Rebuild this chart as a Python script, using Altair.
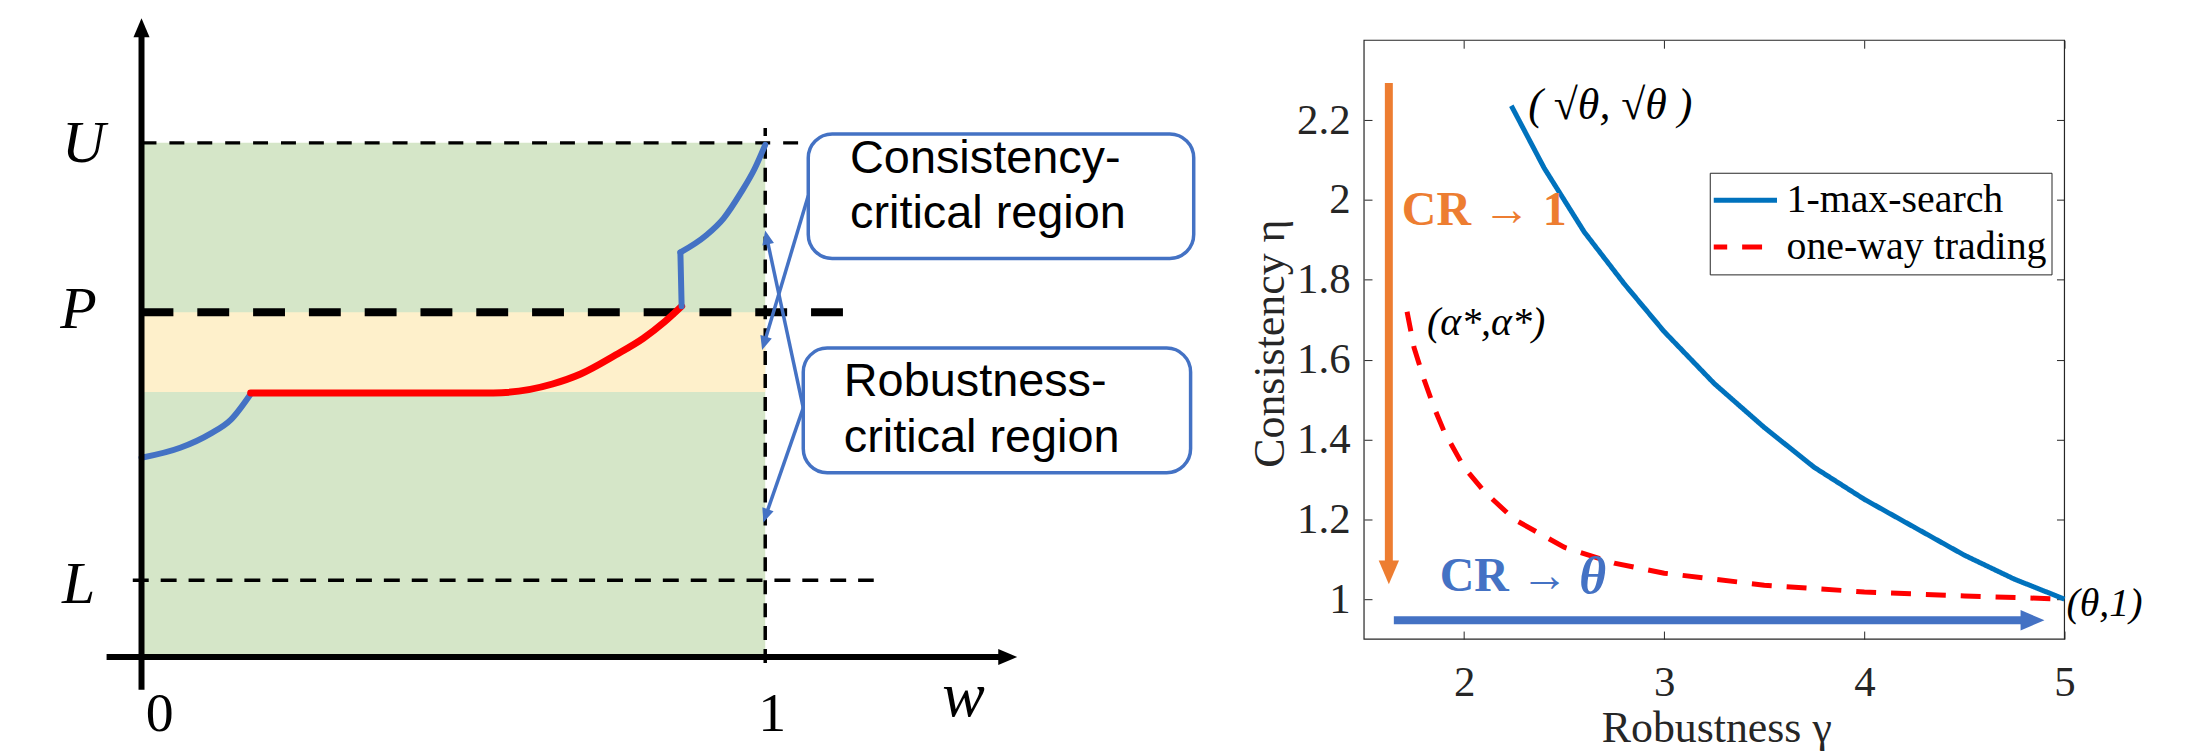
import math
import altair as alt
import pandas as pd

# ---------------- canvas (plot area = whole page minus the 8px margin) ----------------
W, H = 2190, 744

# ======================= LEFT: schematic (x = w, y = price level v) =======================
level_names = ["U", "P", "L"]
level_values = [5.16, 3.46, 0.77]
band_low = 2.66                      # lower edge of the yellow band

level_label_w = [-0.093, -0.101, -0.101]
level_label_v = [5.15, 3.48, 0.72]

w_tick_text = ["0", "1"]
w_tick_w = [0.029, 1.011]
w_tick_v = [-0.57, -0.57]
w_name = ["w"]
w_name_w = [1.318]
w_name_v = [-0.40]

# threshold curve
blue_low_w = [0.0, 0.062, 0.110, 0.143, 0.175]
blue_low_v = [2.00, 2.10, 2.24, 2.38, 2.64]
red_w = [0.175, 0.564, 0.659, 0.704, 0.760, 0.805, 0.838, 0.866]
red_v = [2.65, 2.65, 2.74, 2.84, 3.03, 3.20, 3.36, 3.52]
jump_w = [0.866, 0.864]
jump_v = [3.52, 4.06]
blue_high_w = [0.864, 0.905, 0.933, 0.961, 0.983, 1.0]
blue_high_v = [4.06, 4.23, 4.40, 4.66, 4.90, 5.14]

# callouts
box_w0 = [1.069, 1.061]
box_w1 = [1.687, 1.682]
box_v0 = [4.00, 1.85]
box_v1 = [5.25, 3.10]
callout_text = ["Consistency-", "critical region", "Robustness-", "critical region"]
callout_text_w = [1.136, 1.136, 1.126, 1.126]
callout_text_v = [5.00, 4.45, 2.76, 2.20]
callout_start_w = [1.069, 1.061, 1.061]
callout_start_v = [4.63, 2.50, 2.50]
callout_tip_w = [0.995, 1.000, 0.997]
callout_tip_v = [3.08, 4.28, 1.35]

# ======================= RIGHT: consistency vs robustness =======================
XLIM = [1.5, 5.0]
YLIM = [0.9, 2.4]
x_ticks = [2, 3, 4, 5]
y_ticks = [1.0, 1.2, 1.4, 1.6, 1.8, 2.0, 2.2]

series_names = ["1-max-search", "one-way trading"]
gamma_max = [2.236, 2.4, 2.6, 2.8, 3.0, 3.25, 3.5, 3.75, 4.0, 4.25, 4.5, 4.75, 5.0]
eta_max = [2.236, 2.08, 1.92, 1.79, 1.67, 1.54, 1.43, 1.33, 1.25, 1.18, 1.11, 1.05, 1.0]
gamma_owt = [1.715, 1.75, 1.8, 1.85, 1.9, 2.0, 2.1, 2.25, 2.5, 2.75, 3.0, 3.5, 4.0, 4.5, 5.0]
eta_owt = [1.72, 1.63, 1.55, 1.48, 1.42, 1.33, 1.27, 1.20, 1.13, 1.09, 1.065, 1.035, 1.018, 1.008, 1.0]

cr_arrow_from = [(1.624, 2.293), (1.649, 0.947)]
cr_arrow_to = [(1.624, 1.037), (4.900, 0.947)]
cr1_text = "CR → 1"
cr1_pos = (1.689, 1.971)
crt_text = "CR →"
crt_pos = (1.878, 1.055)
crt_theta = "θ"
crt_theta_pos = (2.575, 1.055)

# ---------------- styles / layout ----------------
GREEN = "#D5E6C8"
YELLOW = "#FEF0CB"
OFFICE_BLUE = "#4472C4"
ORANGE = "#ED7D31"
MAT_BLUE = "#0072BD"
RED = "#FF0000"
INK = "#262626"
SERIF = "Liberation Serif"
SANS = "Liberation Sans"
HEAD_PATH = "M-0.85,2L0.85,2L0,0Z"     # arrow head with its tip at the anchor, pointing up

# left scale: pixel position of w=0 / v=0 and pixels per unit
LX0, LXS = 134.0, 626.0
LY0, LYS = 650.0, 100.0
lx_scale = alt.Scale(domain=[-LX0 / LXS, (W - LX0) / LXS], nice=False, zero=False)
ly_scale = alt.Scale(domain=[(LY0 - H) / LYS, LY0 / LYS], nice=False, zero=False)

# right scale: frame edges in pixels
RX_L, RX_R, RY_T, RY_B = 1361.0, 2064.0, 31.0, 632.0
RXS = (RX_R - RX_L) / (XLIM[1] - XLIM[0])
RYS = (RY_B - RY_T) / (YLIM[1] - YLIM[0])
rx_scale = alt.Scale(domain=[XLIM[0] - RX_L / RXS, XLIM[0] + (W - RX_L) / RXS], nice=False, zero=False)
ry_scale = alt.Scale(domain=[YLIM[0] - (H - RY_B) / RYS, YLIM[1] + RY_T / RYS], nice=False, zero=False)
TICK = 8


def LX(f, **kw):
    return alt.X(f"{f}:Q", scale=lx_scale, axis=None, **kw)


def LY(f, **kw):
    return alt.Y(f"{f}:Q", scale=ly_scale, axis=None, **kw)


def RX(f, axis=None):
    return alt.X(f"{f}:Q", scale=rx_scale, axis=axis)


def RY(f, axis=None):
    return alt.Y(f"{f}:Q", scale=ry_scale, axis=axis)


def arrow_geometry(starts, tips, to_px, from_px, back):
    """shaft end (pulled back from the tip) and head angle, computed in pixel space"""
    rows = []
    for (a, b), (c, d) in zip(starts, tips):
        sx, sy = to_px(a, b)
        tx, ty = to_px(c, d)
        dx, dy = tx - sx, ty - sy
        n = math.hypot(dx, dy)
        ex, ey = tx - dx / n * back, ty - dy / n * back
        e = from_px(ex, ey)
        ang = math.degrees(math.atan2(dx, -dy)) % 360
        rows.append(dict(x0=a, y0=b, x1=e[0], y1=e[1], tx=c, ty=d, ang=ang))
    return pd.DataFrame(rows)


def l_to_px(w, v):
    return LX0 + w * LXS, LY0 - v * LYS


def l_from_px(px, py):
    return (px - LX0) / LXS, (LY0 - py) / LYS


def r_to_px(g, e):
    return RX_L + (g - XLIM[0]) * RXS, RY_B - (e - YLIM[0]) * RYS


def r_from_px(px, py):
    return XLIM[0] + (px - RX_L) / RXS, YLIM[0] + (RY_B - py) / RYS


# ======================= build LEFT layers =======================
U, P, L = level_values
left = []

regions = pd.DataFrame({"w0": [0, 0], "w1": [1, 1], "v0": [0, band_low], "v1": [U, P],
                        "col": [GREEN, YELLOW]})
left.append(alt.Chart(regions).mark_rect().encode(
    x=LX("w0"), x2=alt.X2("w1"), y=LY("v0"), y2=alt.Y2("v1"),
    color=alt.Color("col:N", scale=None)))


def hline(w0, w1, v, dash, width):
    d = pd.DataFrame({"w0": [w0], "w1": [w1], "v": [v]})
    return alt.Chart(d).mark_rule(strokeDash=dash, strokeWidth=width, color="black").encode(
        x=LX("w0"), x2=alt.X2("w1"), y=LY("v"))


left.append(hline(0, 1.062, U, [15, 13], 3.5))
left.append(hline(-0.014, 1.174, L, [16, 12], 3.5))
vdash = pd.DataFrame({"w": [1.0], "v0": [-0.06], "v1": [5.31]})
left.append(alt.Chart(vdash).mark_rule(strokeDash=[14, 9], strokeWidth=3.5, color="black").encode(
    x=LX("w"), y=LY("v0"), y2=alt.Y2("v1")))
left.append(hline(0, 1.129, P, [32, 24], 8))

curve_rows = []
for seg, ws, vs, col, sw in [("a", blue_low_w, blue_low_v, OFFICE_BLUE, 6),
                             ("b", red_w, red_v, RED, 7),
                             ("c", jump_w, jump_v, OFFICE_BLUE, 6),
                             ("d", blue_high_w, blue_high_v, OFFICE_BLUE, 6)]:
    for i, (w, v) in enumerate(zip(ws, vs)):
        curve_rows.append(dict(w=w, v=v, seg=seg, col=col, sw=sw, i=i))
curves = pd.DataFrame(curve_rows)
left.append(alt.Chart(curves).mark_line(interpolate="monotone", strokeCap="round", strokeJoin="round").encode(
    x=LX("w"), y=LY("v"), detail="seg:N", order="i:Q",
    color=alt.Color("col:N", scale=None), strokeWidth=alt.StrokeWidth("sw:Q", scale=None)))

# coordinate axes with arrow heads
axes_geo = arrow_geometry([(0.0, -0.33), (-0.056, 0.0)], [(0.0, 6.41), (1.404, 0.0)],
                          l_to_px, l_from_px, 14)
left.append(alt.Chart(axes_geo).mark_rule(color="black", strokeWidth=6).encode(
    x=LX("x0"), x2=alt.X2("x1"), y=LY("y0"), y2=alt.Y2("y1")))
left.append(alt.Chart(axes_geo).mark_point(shape=HEAD_PATH, filled=True, size=(2 * 9.5) ** 2,
                                           color="black", opacity=1, strokeWidth=0).encode(
    x=LX("tx"), y=LY("ty"), angle=alt.Angle("ang:Q", scale=None)))

# axis labels
lev = pd.DataFrame({"t": level_names, "w": level_label_w, "v": level_label_v})
left.append(alt.Chart(lev).mark_text(font=SERIF, fontStyle="italic", fontSize=60, align="center",
                                     baseline="middle", color="black").encode(
    x=LX("w"), y=LY("v"), text="t:N"))
wt = pd.DataFrame({"t": w_tick_text, "w": w_tick_w, "v": w_tick_v})
left.append(alt.Chart(wt).mark_text(font=SERIF, fontSize=56, align="center", baseline="middle",
                                    color="black").encode(x=LX("w"), y=LY("v"), text="t:N"))
wn = pd.DataFrame({"t": w_name, "w": w_name_w, "v": w_name_v})
left.append(alt.Chart(wn).mark_text(font=SERIF, fontStyle="italic", fontSize=64, align="center",
                                    baseline="middle", color="black").encode(x=LX("w"), y=LY("v"), text="t:N"))

# callout boxes and text
boxes = pd.DataFrame({"w0": box_w0, "w1": box_w1, "v0": box_v0, "v1": box_v1})
left.append(alt.Chart(boxes).mark_rect(cornerRadius=24, fill="white", stroke=OFFICE_BLUE,
                                       strokeWidth=3.5).encode(
    x=LX("w0"), x2=alt.X2("w1"), y=LY("v0"), y2=alt.Y2("v1")))
ct = pd.DataFrame({"t": callout_text, "w": callout_text_w, "v": callout_text_v})
left.append(alt.Chart(ct).mark_text(font=SANS, fontSize=47, align="left", baseline="middle",
                                    color="black").encode(x=LX("w"), y=LY("v"), text="t:N"))

call_geo = arrow_geometry(list(zip(callout_start_w, callout_start_v)),
                          list(zip(callout_tip_w, callout_tip_v)), l_to_px, l_from_px, 8)
left.append(alt.Chart(call_geo).mark_rule(color=OFFICE_BLUE, strokeWidth=3.5).encode(
    x=LX("x0"), x2=alt.X2("x1"), y=LY("y0"), y2=alt.Y2("y1")))
left.append(alt.Chart(call_geo).mark_point(shape=HEAD_PATH, filled=True, size=(2 * 7) ** 2,
                                           color=OFFICE_BLUE, opacity=1, strokeWidth=0).encode(
    x=LX("tx"), y=LY("ty"), angle=alt.Angle("ang:Q", scale=None)))

left_group = alt.layer(*left)

# ======================= build RIGHT layers =======================
axis_text = dict(labelFont=SERIF, labelFontSize=43, labelColor=INK, tickColor=INK, tickWidth=1,
                 tickSize=TICK, domain=False, grid=False, labelFlush=False, labelOverlap=False,
                 titleFont=SERIF, titleFontSize=44, titleFontWeight="normal", titleColor=INK,
                 titleLimit=600)
ax_bottom = alt.Axis(orient="bottom", offset=(RY_B - TICK) - H, values=x_ticks, format="~g",
                     labelPadding=23, title="Robustness γ",
                     titleX=(RX_L + RX_R) / 2 + 2, titleY=722 - (RY_B - TICK),
                     titleAlign="center", titleBaseline="middle", **axis_text)
ax_left = alt.Axis(orient="left", offset=-(RX_L + TICK), values=y_ticks, format="~g",
                   labelPadding=14, title="Consistency η",
                   titleX=1267 - (RX_L + TICK), titleY=335, titleAngle=270,
                   titleAlign="center", titleBaseline="middle", **axis_text)
ax_top = alt.Axis(orient="top", offset=-(RY_T + TICK), values=x_ticks, labels=False, title=None,
                  tickSize=TICK, tickColor=INK, tickWidth=1, domain=False, grid=False)
ax_right = alt.Axis(orient="right", offset=(RX_R - TICK) - W, values=y_ticks, labels=False, title=None,
                    tickSize=TICK, tickColor=INK, tickWidth=1, domain=False, grid=False)

right = []
frame = pd.DataFrame({"g0": [XLIM[0]], "g1": [XLIM[1]], "e0": [YLIM[0]], "e1": [YLIM[1]]})
right.append(alt.Chart(frame).mark_rect(fillOpacity=0, stroke=INK, strokeWidth=1.2).encode(
    x=RX("g0", ax_bottom), x2=alt.X2("g1"), y=RY("e0", ax_left), y2=alt.Y2("e1")))

lines = pd.DataFrame(
    [dict(g=g, e=e, s=series_names[0], i=i) for i, (g, e) in enumerate(zip(gamma_max, eta_max))] +
    [dict(g=g, e=e, s=series_names[1], i=i) for i, (g, e) in enumerate(zip(gamma_owt, eta_owt))])
legend_kw = dict(title=None, orient="none", legendX=1708, legendY=164, direction="vertical",
                 symbolType="stroke", symbolSize=70 ** 2, symbolStrokeWidth=5, clipHeight=47,
                 padding=4, symbolOffset=-9, labelOffset=7, labelFont=SERIF, labelFontSize=40,
                 labelColor="black", labelLimit=500, strokeColor=INK, fillColor="white",
                 rowPadding=0)
right.append(alt.Chart(lines).mark_line(strokeWidth=5).encode(
    x=RX("g", ax_top), y=RY("e", ax_right), order="i:Q",
    color=alt.Color("s:N", scale=alt.Scale(domain=series_names, range=[MAT_BLUE, RED]),
                    legend=alt.Legend(**legend_kw)),
    strokeDash=alt.StrokeDash("s:N", scale=alt.Scale(domain=series_names, range=[[1, 0], [20, 15]]),
                              legend=alt.Legend(**legend_kw))))

# CR arrows
cr_geo = arrow_geometry(cr_arrow_from, cr_arrow_to, r_to_px, r_from_px, 14)
cr_geo["col"] = [ORANGE, OFFICE_BLUE]
right.append(alt.Chart(cr_geo).mark_rule(strokeWidth=8).encode(
    x=RX("x0"), x2=alt.X2("x1"), y=RY("y0"), y2=alt.Y2("y1"), color=alt.Color("col:N", scale=None)))
right.append(alt.Chart(cr_geo).mark_point(shape=HEAD_PATH, filled=True, size=(2 * 12) ** 2,
                                          opacity=1, strokeWidth=0).encode(
    x=RX("tx"), y=RY("ty"), angle=alt.Angle("ang:Q", scale=None), color=alt.Color("col:N", scale=None)))

right.append(alt.Chart(pd.DataFrame({"g": [cr1_pos[0]], "e": [cr1_pos[1]], "t": [cr1_text]})).mark_text(
    font=SERIF, fontWeight="bold", fontSize=48, color=ORANGE, align="left", baseline="middle").encode(
    x=RX("g"), y=RY("e"), text="t:N"))
right.append(alt.Chart(pd.DataFrame({"g": [crt_pos[0]], "e": [crt_pos[1]], "t": [crt_text]})).mark_text(
    font=SERIF, fontWeight="bold", fontSize=48, color=OFFICE_BLUE, align="left", baseline="middle").encode(
    x=RX("g"), y=RY("e"), text="t:N"))
right.append(alt.Chart(pd.DataFrame({"g": [crt_theta_pos[0]], "e": [crt_theta_pos[1]], "t": [crt_theta]})).mark_text(
    font=SERIF, fontWeight="bold", fontStyle="italic", fontSize=52, color=OFFICE_BLUE, align="left",
    baseline="middle").encode(x=RX("g"), y=RY("e"), text="t:N"))

# point annotations, anchored on the curve end points
ann = pd.DataFrame({
    "g": [gamma_max[0], gamma_owt[0], gamma_max[-1]],
    "e": [eta_max[0], eta_owt[0], eta_max[-1]],
    "t": ["( √θ, √θ )", "(α*,α*)", "(θ,1)"],
    "fs": [44, 40, 40],
    "dx": [17, 20, 2], "dy": [0, 11, 5]})
for k in range(len(ann)):
    r = ann.iloc[[k]]
    right.append(alt.Chart(r).mark_text(font=SERIF, fontStyle="italic", fontSize=int(r["fs"].iloc[0]),
                                        color="black", align="left", baseline="middle",
                                        dx=int(r["dx"].iloc[0]), dy=int(r["dy"].iloc[0])).encode(
        x=RX("g"), y=RY("e"), text="t:N"))

right_group = alt.layer(*right).resolve_axis(x="independent", y="independent")

chart = alt.layer(left_group, right_group).resolve_scale(
    x="independent", y="independent").properties(
    width=W, height=H, autosize=alt.AutoSizeParams(type="none"), padding=0,
    background="white").configure_view(strokeWidth=0)

chart.save("out.html", embed_options={"renderer": "svg", "actions": False})
